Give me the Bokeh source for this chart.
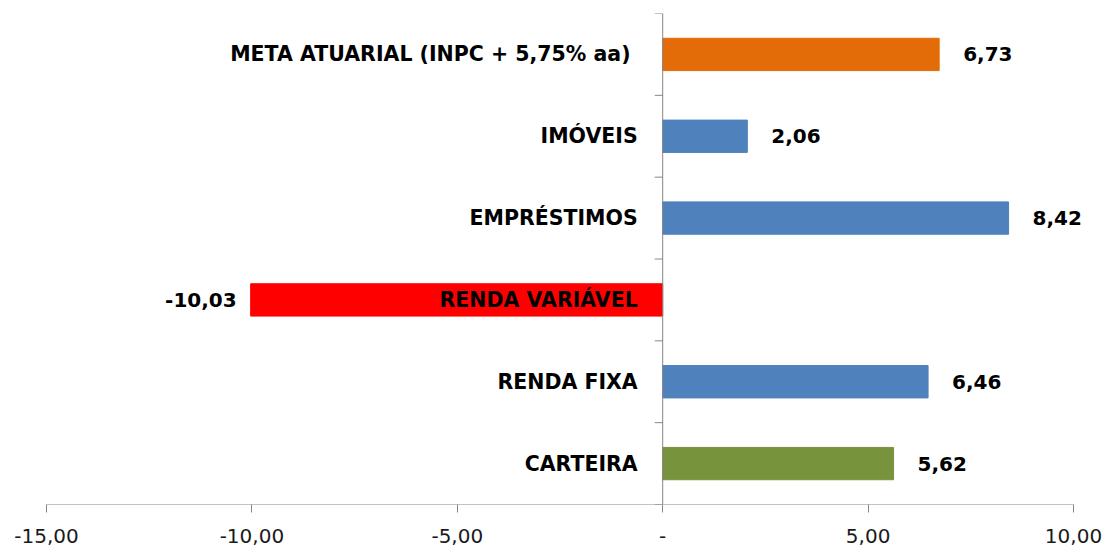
import math
from bokeh.plotting import figure
from bokeh.models import ColumnDataSource, FixedTicker, Range1d, LabelSet
from bokeh.core.properties import value
from bokeh.embed import file_html
from bokeh.resources import INLINE

categories = ["CARTEIRA", "RENDA FIXA", "RENDA VARIÁVEL", "EMPRÉSTIMOS", "IMÓVEIS",
              "META ATUARIAL  (INPC + 5,75% aa)"]
values = [5.62, 6.46, -10.03, 8.42, 2.06, 6.73]
colors = ["#77933C", "#4F81BD", "#FF0000", "#4F81BD", "#4F81BD", "#E36C09"]
x_ticks = [-15, -10, -5, 0, 5, 10]
x_tick_labels = ["-15,00", "-10,00", "-5,00", "-", "5,00", "10,00"]

FONT = "DejaVu Sans"

n = len(categories)
ypos = [i + 0.5 for i in range(n)]
src = ColumnDataSource(dict(
    y=ypos, v=values, c=colors, cat=categories,
    lab=[f"{v:.2f}".replace(".", ",") for v in values],
    align=["left" if v >= 0 else "right" for v in values],
    off=[24 if v >= 0 else -14 for v in values],
))

AXIS_PX = 1027          # pixel length of the drawn axis (-15 .. 10)
EXTRA_PX = 34           # room to the right of the axis end for labels
x_min, x_max = x_ticks[0], x_ticks[-1]
x_extra = EXTRA_PX * (x_max - x_min) / AXIS_PX

p = figure(frame_width=AXIS_PX + EXTRA_PX, frame_height=491, output_backend="svg",
           toolbar_location=None,
           x_range=Range1d(x_min, x_max + x_extra), y_range=Range1d(0, n),
           min_border_left=46, min_border_right=0, min_border_top=13, min_border_bottom=48)
p.outline_line_color = None
p.xgrid.visible = False
p.ygrid.visible = False
p.yaxis.visible = False

ax = p.xaxis[0]
ax.ticker = FixedTicker(ticks=x_ticks)
ax.major_label_overrides = {t: l for t, l in zip(x_ticks, x_tick_labels)}
ax.axis_line_color = None
ax.major_tick_line_color = "#868686"
ax.minor_tick_line_color = None
ax.major_tick_out = 8
ax.major_tick_in = 0
ax.major_label_standoff = 16
ax.major_label_text_font = "DejaVu Sans"
ax.major_label_text_font_size = "20px"
ax.major_label_text_color = "#1a1a1a"

# horizontal axis line only across the tick span
p.segment(x0=x_min, y0=0, x1=x_max, y1=0, line_color="#868686", line_width=1)

p.hbar(y="y", right="v", left=0, height=0.395, fill_color="c", line_color="c", source=src)

# vertical axis at zero with category separator ticks
p.segment(x0=0, y0=0, x1=0, y1=n, line_color="#868686", line_width=1)
p.ray(x=[0] * (n + 1), y=list(range(n + 1)), length=8, length_units="screen",
      angle=math.pi, line_color="#868686", line_width=1)

p.text(x=0, y="y", text="cat", source=src, x_offset=-25, text_align="right",
       text_baseline="middle", text_font=value(FONT), text_font_style="bold",
       text_font_size="20.5px", text_color="#000000")

vals = LabelSet(x="v", y="y", text="lab", source=src, x_offset="off", text_align="align",
                text_baseline="middle", text_font=value(FONT), text_font_style="bold",
                text_font_size="20px", text_color="#000000")
p.add_layout(vals)

open("out.html", "w").write(file_html(p, INLINE))
